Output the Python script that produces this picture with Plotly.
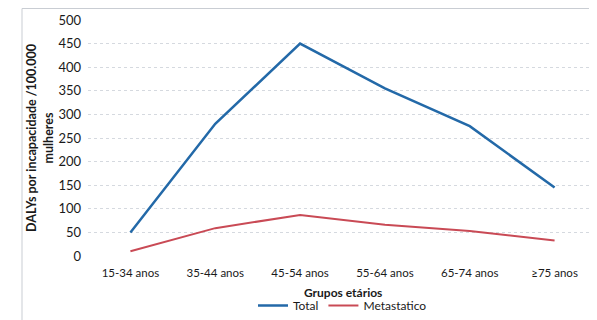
import plotly.graph_objects as go

categories = ["15-34 anos", "35-44 anos", "45-54 anos", "55-64 anos", "65-74 anos", "≥75 anos"]
total = [50, 280, 450, 355, 275, 145]
metastatico = [10, 59, 87, 66, 53, 33]

font_family = "Lato, Open Sans, sans-serif"

# page body has an 8px margin, so the figure is sized 589x312 to fill the 597x320 window
fig = go.Figure()
fig.add_trace(go.Scatter(x=categories, y=total, mode="lines", name="Total",
                         line=dict(color="#2369A8", width=2.5)))
fig.add_trace(go.Scatter(x=categories, y=metastatico, mode="lines", name="Metastatico",
                         line=dict(color="#C94A55", width=2)))

fig.update_layout(
    width=589, height=312,
    margin=dict(l=80, r=0, t=12, b=64),
    paper_bgcolor="white", plot_bgcolor="white",
    font=dict(family=font_family, size=11, color="#1a1a1a"),
    showlegend=True,
    legend=dict(orientation="h", x=0.5, xanchor="center",
                yref="container", y=-0.024, yanchor="bottom",
                font=dict(size=12), tracegroupgap=0, itemwidth=30),
    xaxis=dict(type="category", range=[-0.5, 5.5], showgrid=False, showline=False, ticks="",
               ticklabelstandoff=8, automargin=False,
               tickfont=dict(size=11.5)),
    yaxis=dict(range=[0, 500], dtick=50, showgrid=True, gridcolor="#D5D9DF",
               griddash="dot", zeroline=False, showline=False, ticks="",
               tickfont=dict(size=13), automargin=False, ticklabelstandoff=6,
               title=dict(text="<b>DALYs por incapacidade /100.000<br>mulheres</b>",
                          font=dict(size=12.5), standoff=2)),
    annotations=[dict(text="<b>Grupos etários</b>", xref="paper", yref="paper",
                      x=0.5, y=-36 / 236, xanchor="center", yanchor="middle",
                      showarrow=False, font=dict(size=12))],
)
fig.add_shape(type="rect", xref="paper", yref="paper",
              x0=(14 - 80) / 509, x1=1.05, y0=-(312 - 12) / 236, y1=1 + 11.5 / 236,
              line=dict(color="#C9CDD3", width=1), layer="below")

fig.write_html("out.html")
